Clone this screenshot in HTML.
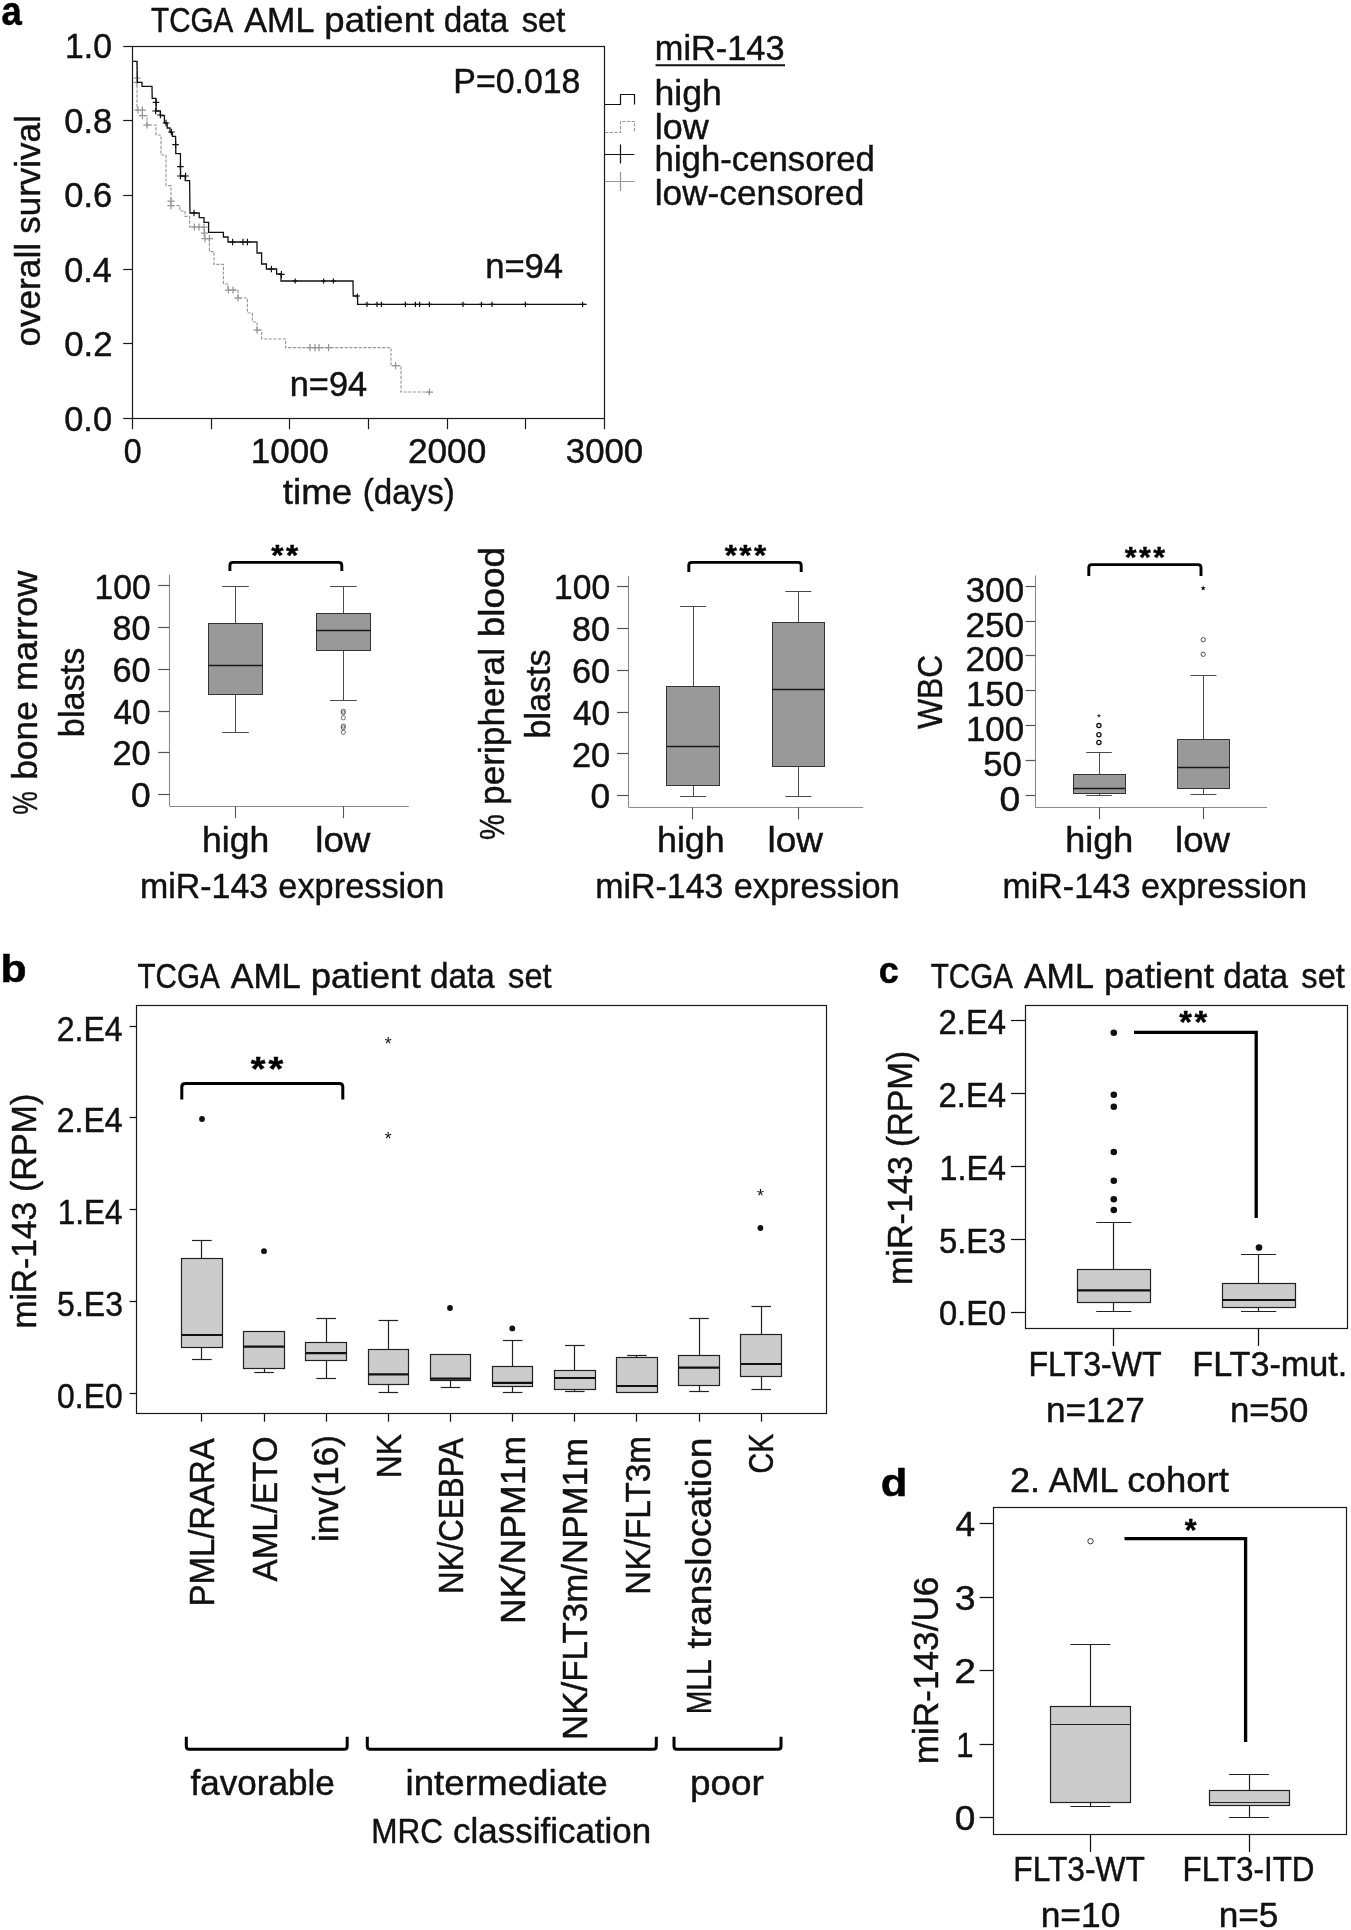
<!DOCTYPE html>
<html><head><meta charset="utf-8"><title>Figure</title>
<style>
html,body{margin:0;padding:0;background:#fff;}
svg{display:block;filter:grayscale(1);}
text{font-family:"Liberation Sans",sans-serif;font-size:100px;}
</style></head>
<body>
<svg width="1351" height="1930" viewBox="0 0 1351 1930">
<rect x="0" y="0" width="1351" height="1930" fill="#ffffff"/>
<text transform="matrix(0.3645 0 0 0.4040 1.61 25.40)" font-weight="bold" fill="#000" stroke="#000" stroke-width="1.3">a</text>
<text transform="matrix(0.2962 0 0 0.3420 151.11 31.75)" fill="#111" stroke="#111" stroke-width="1.3">TCGA</text>
<text transform="matrix(0.3407 0 0 0.3420 244.30 31.75)" fill="#111" stroke="#111" stroke-width="1.3">AML</text>
<text transform="matrix(0.3662 0 0 0.3420 324.32 31.75)" fill="#111" stroke="#111" stroke-width="1.3">patient</text>
<text transform="matrix(0.3323 0 0 0.3420 443.67 31.75)" fill="#111" stroke="#111" stroke-width="1.3">data</text>
<text transform="matrix(0.3266 0 0 0.3420 521.72 31.75)" fill="#111" stroke="#111" stroke-width="1.3">set</text>
<rect x="132.50" y="46.50" width="472.00" height="372.00" fill="none" stroke="#1a1a1a" stroke-width="1.2"/>
<line x1="123.20" y1="46.50" x2="132.60" y2="46.50" stroke="#1a1a1a" stroke-width="1.2" />
<text transform="matrix(0.3375 0 0 0.3420 65.07 58.30)" fill="#111" stroke="#111" stroke-width="1.3">1.0</text>
<line x1="123.20" y1="120.50" x2="132.60" y2="120.50" stroke="#1a1a1a" stroke-width="1.2" />
<text transform="matrix(0.3450 0 0 0.3420 64.22 132.74)" fill="#111" stroke="#111" stroke-width="1.3">0.8</text>
<line x1="123.20" y1="195.50" x2="132.60" y2="195.50" stroke="#1a1a1a" stroke-width="1.2" />
<text transform="matrix(0.3450 0 0 0.3420 64.22 207.18)" fill="#111" stroke="#111" stroke-width="1.3">0.6</text>
<line x1="123.20" y1="269.50" x2="132.60" y2="269.50" stroke="#1a1a1a" stroke-width="1.2" />
<text transform="matrix(0.3424 0 0 0.3420 64.23 281.62)" fill="#111" stroke="#111" stroke-width="1.3">0.4</text>
<line x1="123.20" y1="343.50" x2="132.60" y2="343.50" stroke="#1a1a1a" stroke-width="1.2" />
<text transform="matrix(0.3477 0 0 0.3420 64.21 356.06)" fill="#111" stroke="#111" stroke-width="1.3">0.2</text>
<line x1="123.20" y1="418.50" x2="132.60" y2="418.50" stroke="#1a1a1a" stroke-width="1.2" />
<text transform="matrix(0.3437 0 0 0.3420 64.23 430.50)" fill="#111" stroke="#111" stroke-width="1.3">0.0</text>
<line x1="132.50" y1="418.40" x2="132.50" y2="429.20" stroke="#1a1a1a" stroke-width="1.2" />
<line x1="211.50" y1="418.40" x2="211.50" y2="429.20" stroke="#1a1a1a" stroke-width="1.2" />
<line x1="289.50" y1="418.40" x2="289.50" y2="429.20" stroke="#1a1a1a" stroke-width="1.2" />
<line x1="368.50" y1="418.40" x2="368.50" y2="429.20" stroke="#1a1a1a" stroke-width="1.2" />
<line x1="447.50" y1="418.40" x2="447.50" y2="429.20" stroke="#1a1a1a" stroke-width="1.2" />
<line x1="525.50" y1="418.40" x2="525.50" y2="429.20" stroke="#1a1a1a" stroke-width="1.2" />
<line x1="604.50" y1="418.40" x2="604.50" y2="429.20" stroke="#1a1a1a" stroke-width="1.2" />
<text transform="matrix(0.3208 0 0 0.3420 123.82 462.80)" fill="#111" stroke="#111" stroke-width="1.3">0</text>
<text transform="matrix(0.3504 0 0 0.3420 250.87 462.80)" fill="#111" stroke="#111" stroke-width="1.3">1000</text>
<text transform="matrix(0.3519 0 0 0.3420 407.94 462.80)" fill="#111" stroke="#111" stroke-width="1.3">2000</text>
<text transform="matrix(0.3479 0 0 0.3420 565.81 462.80)" fill="#111" stroke="#111" stroke-width="1.3">3000</text>
<text transform="matrix(0.3683 0 0 0.3420 282.75 504.30)" fill="#111" stroke="#111" stroke-width="1.3">time</text>
<text transform="matrix(0.3315 0 0 0.3420 362.71 504.30)" fill="#111" stroke="#111" stroke-width="1.3">(days)</text>
<text transform="matrix(0 -0.3521 0.3420 0 40.00 346.61)" fill="#111" stroke="#111" stroke-width="1.3">overall</text>
<text transform="matrix(0 -0.3496 0.3420 0 40.00 233.75)" fill="#111" stroke="#111" stroke-width="1.3">survival</text>
<text transform="matrix(0.3388 0 0 0.3420 453.29 93.00)" fill="#111" stroke="#111" stroke-width="1.3">P=0.018</text>
<text transform="matrix(0.3462 0 0 0.3420 485.15 278.00)" fill="#111" stroke="#111" stroke-width="1.3">n=94</text>
<text transform="matrix(0.3434 0 0 0.3420 289.77 396.00)" fill="#111" stroke="#111" stroke-width="1.3">n=94</text>
<path d="M132.6 61.4L137.0 61.4L137.0 110.0L142.4 110.0L142.4 115.6L147.0 115.6L147.0 125.0L156.0 125.0L156.0 135.0L161.0 135.0L161.0 155.0L166.0 155.0L166.0 185.6L171.0 185.6L171.0 205.6L180.0 205.6L180.0 211.0L185.0 211.0L185.0 216.4L189.6 216.4L189.6 227.0L204.4 227.0L204.4 238.6L209.4 238.6L209.4 251.6L214.0 251.6L214.0 264.4L223.4 264.4L223.4 284.0L228.0 284.0L228.0 290.0L238.0 290.0L238.0 298.0L247.4 298.0L247.4 313.0L252.4 313.0L252.4 322.0L257.0 322.0L257.0 330.0L261.6 330.0L261.6 339.0L285.6 339.0L285.6 347.6L391.0 347.6L391.0 365.6L401.0 365.6L401.0 392.0L432.0 392.0" stroke="#989898" stroke-width="1.15" fill="none" stroke-dasharray="3.2 1.5"/>
<path d="M133.4 78.0h7.2M137.0 74.4v7.2M133.4 82.4h7.2M137.0 78.8v7.2M134.4 110.0h7.2M138.0 106.4v7.2M138.8 110.0h7.2M142.4 106.4v7.2M138.8 115.6h7.2M142.4 112.0v7.2M143.4 125.0h7.2M147.0 121.4v7.2M167.4 201.0h7.2M171.0 197.4v7.2M167.4 205.6h7.2M171.0 202.0v7.2M190.8 227.0h7.2M194.4 223.4v7.2M195.4 227.0h7.2M199.0 223.4v7.2M200.4 227.0h7.2M204.0 223.4v7.2M200.8 233.0h7.2M204.4 229.4v7.2M201.4 238.6h7.2M205.0 235.0v7.2M205.8 238.6h7.2M209.4 235.0v7.2M224.8 290.0h7.2M228.4 286.4v7.2M229.4 290.0h7.2M233.0 286.4v7.2M234.4 298.0h7.2M238.0 294.4v7.2M253.4 330.0h7.2M257.0 326.4v7.2M306.4 347.6h7.2M310.0 344.0v7.2M311.4 347.6h7.2M315.0 344.0v7.2M315.4 347.6h7.2M319.0 344.0v7.2M325.0 347.6h7.2M328.6 344.0v7.2M392.0 365.6h7.2M395.6 362.0v7.2M425.8 392.0h7.2M429.4 388.4v7.2" stroke="#959595" stroke-width="1.25" fill="none" />
<path d="M132.6 61.4L137.0 61.4L137.4 82.4L142.0 82.4L142.0 86.4L152.0 86.4L152.2 98.4L156.0 98.4L156.2 111.0L160.4 111.0L160.4 115.6L164.4 115.6L164.4 123.0L167.2 123.0L167.2 128.0L170.0 128.0L170.0 132.4L172.4 132.4L172.4 136.4L175.6 136.4L175.8 153.6L180.4 153.6L180.6 176.0L185.2 176.0L185.2 180.6L189.6 180.6L190.0 213.0L199.2 213.0L199.2 217.6L204.0 217.6L204.0 222.4L208.6 222.4L208.6 232.4L223.4 232.4L223.4 237.0L228.0 237.0L228.0 242.0L257.0 242.0L257.0 253.0L261.6 253.0L261.6 264.0L266.4 264.0L266.4 269.0L276.6 269.0L276.6 274.0L281.0 274.0L281.0 281.0L353.0 281.0L353.2 296.0L357.6 296.0L357.6 304.4L586.6 304.4" stroke="#111" stroke-width="1.3" fill="none" />
<path d="M152.7 102.4h6.6M156.0 99.1v6.6M152.3 111.0h6.6M155.6 107.7v6.6M157.1 115.0h6.6M160.4 111.7v6.6M162.7 123.0h6.6M166.0 119.7v6.6M168.1 132.0h6.6M171.4 128.7v6.6M172.3 144.6h6.6M175.6 141.3v6.6M177.1 166.6h6.6M180.4 163.3v6.6M177.1 176.0h6.6M180.4 172.7v6.6M182.3 176.0h6.6M185.6 172.7v6.6M190.7 213.0h6.6M194.0 209.7v6.6M229.3 242.0h6.6M232.6 238.7v6.6M239.7 242.0h6.6M243.0 238.7v6.6M244.1 242.0h6.6M247.4 238.7v6.6M268.1 269.0h6.6M271.4 265.7v6.6M278.1 274.4h6.6M281.4 271.1v6.6M292.6 281.0h5.2M295.2 278.4v5.2M321.0 281.0h5.2M323.6 278.4v5.2M330.8 281.0h5.2M333.4 278.4v5.2M354.8 296.0h5.2M357.4 293.4v5.2M364.4 304.4h5.2M367.0 301.8v5.2M374.4 304.4h5.2M377.0 301.8v5.2M378.8 304.4h5.2M381.4 301.8v5.2M402.8 304.4h5.2M405.4 301.8v5.2M412.8 304.4h5.2M415.4 301.8v5.2M417.0 304.4h5.2M419.6 301.8v5.2M426.8 304.4h5.2M429.4 301.8v5.2M460.4 304.4h5.2M463.0 301.8v5.2M478.8 304.4h5.2M481.4 301.8v5.2M489.4 304.4h5.2M492.0 301.8v5.2M522.8 304.4h5.2M525.4 301.8v5.2M580.0 304.4h5.2M582.6 301.8v5.2" stroke="#111" stroke-width="1.2" fill="none" />
<text transform="matrix(0.3435 0 0 0.3420 654.77 59.50)" fill="#111" stroke="#111" stroke-width="1.3">miR-143</text>
<line x1="655.50" y1="65.20" x2="785.00" y2="65.20" stroke="#111" stroke-width="2" />
<text transform="matrix(0.3561 0 0 0.3420 654.51 105.00)" fill="#111" stroke="#111" stroke-width="1.3">high</text>
<text transform="matrix(0.3594 0 0 0.3420 654.66 138.75)" fill="#111" stroke="#111" stroke-width="1.3">low</text>
<text transform="matrix(0.3476 0 0 0.3420 654.57 171.25)" fill="#111" stroke="#111" stroke-width="1.3">high-censored</text>
<text transform="matrix(0.3525 0 0 0.3420 654.71 204.50)" fill="#111" stroke="#111" stroke-width="1.3">low-censored</text>
<path d="M605 104.5H620.5V94.5H634.5V104.5" stroke="#111" stroke-width="1.2" fill="none" />
<path d="M605 132.5H620.5V121.5H634.5V132.5" stroke="#989898" stroke-width="1.15" fill="none" stroke-dasharray="3.2 1.5"/>
<path d="M605 154.5H634.4M620.5 144.4V163.6" stroke="#111" stroke-width="1.2" fill="none" />
<path d="M605 181.5H634.4M620.5 172V191" stroke="#959595" stroke-width="1.2" fill="none" />
<line x1="169.50" y1="574.70" x2="169.50" y2="806.20" stroke="#8a8a8a" stroke-width="1.1" />
<line x1="169.80" y1="806.50" x2="408.80" y2="806.50" stroke="#8a8a8a" stroke-width="1.1" />
<line x1="158.20" y1="585.50" x2="169.80" y2="585.50" stroke="#555" stroke-width="1.2" />
<text transform="matrix(0.3360 0 0 0.3420 94.53 598.50)" fill="#111" stroke="#111" stroke-width="1.3">100</text>
<line x1="158.20" y1="627.50" x2="169.80" y2="627.50" stroke="#555" stroke-width="1.2" />
<text transform="matrix(0.3417 0 0 0.3420 112.56 640.24)" fill="#111" stroke="#111" stroke-width="1.3">80</text>
<line x1="158.20" y1="669.50" x2="169.80" y2="669.50" stroke="#555" stroke-width="1.2" />
<text transform="matrix(0.3434 0 0 0.3420 112.38 681.98)" fill="#111" stroke="#111" stroke-width="1.3">60</text>
<line x1="158.20" y1="711.50" x2="169.80" y2="711.50" stroke="#555" stroke-width="1.2" />
<text transform="matrix(0.3336 0 0 0.3420 113.43 723.72)" fill="#111" stroke="#111" stroke-width="1.3">40</text>
<line x1="158.20" y1="752.50" x2="169.80" y2="752.50" stroke="#555" stroke-width="1.2" />
<text transform="matrix(0.3434 0 0 0.3420 112.38 765.46)" fill="#111" stroke="#111" stroke-width="1.3">20</text>
<line x1="158.20" y1="794.50" x2="169.80" y2="794.50" stroke="#555" stroke-width="1.2" />
<text transform="matrix(0.3531 0 0 0.3420 130.94 807.20)" fill="#111" stroke="#111" stroke-width="1.3">0</text>
<line x1="235.50" y1="806.20" x2="235.50" y2="818.20" stroke="#555" stroke-width="1.1" />
<line x1="343.50" y1="806.20" x2="343.50" y2="818.20" stroke="#555" stroke-width="1.1" />
<line x1="235.50" y1="586.20" x2="235.50" y2="623.50" stroke="#4a4a4a" stroke-width="1" />
<line x1="222.20" y1="586.50" x2="248.80" y2="586.50" stroke="#4a4a4a" stroke-width="1" />
<line x1="235.50" y1="694.60" x2="235.50" y2="732.20" stroke="#4a4a4a" stroke-width="1" />
<line x1="222.20" y1="732.50" x2="248.80" y2="732.50" stroke="#4a4a4a" stroke-width="1" />
<rect x="208.50" y="623.50" width="54.00" height="71.00" fill="#999999" stroke="#333" stroke-width="1"/>
<line x1="208.40" y1="665.50" x2="262.60" y2="665.50" stroke="#1a1a1a" stroke-width="1.5" />
<line x1="343.50" y1="586.20" x2="343.50" y2="613.20" stroke="#4a4a4a" stroke-width="1" />
<line x1="330.10" y1="586.50" x2="356.70" y2="586.50" stroke="#4a4a4a" stroke-width="1" />
<line x1="343.50" y1="650.50" x2="343.50" y2="700.80" stroke="#4a4a4a" stroke-width="1" />
<line x1="330.10" y1="700.50" x2="356.70" y2="700.50" stroke="#4a4a4a" stroke-width="1" />
<rect x="316.50" y="613.50" width="54.00" height="37.00" fill="#999999" stroke="#333" stroke-width="1"/>
<line x1="316.30" y1="630.50" x2="370.50" y2="630.50" stroke="#1a1a1a" stroke-width="1.5" />
<circle cx="343.30" cy="711.20" r="2.1" fill="none" stroke="#333" stroke-width="0.7"/>
<circle cx="343.30" cy="712.80" r="2.1" fill="none" stroke="#333" stroke-width="0.7"/>
<circle cx="343.30" cy="717.80" r="2.1" fill="none" stroke="#333" stroke-width="0.7"/>
<circle cx="343.30" cy="726.00" r="2.1" fill="none" stroke="#333" stroke-width="0.7"/>
<circle cx="343.30" cy="727.60" r="2.1" fill="none" stroke="#333" stroke-width="0.7"/>
<circle cx="343.30" cy="732.30" r="2.1" fill="none" stroke="#333" stroke-width="0.7"/>
<path d="M229.90 571.00V565.40Q229.90 562.40 232.90 562.40H338.80Q341.80 562.40 341.80 565.40V571.00" stroke="#000" stroke-width="2.9" fill="none" />
<text transform="matrix(0.3145 0 0 0.3000 271.24 564.60)" font-weight="bold" fill="#000" stroke="#000" stroke-width="1.3">*</text>
<text transform="matrix(0.3145 0 0 0.3000 285.89 564.60)" font-weight="bold" fill="#000" stroke="#000" stroke-width="1.3">*</text>
<text transform="matrix(0.3550 0 0 0.3420 202.02 851.50)" fill="#111" stroke="#111" stroke-width="1.3">high</text>
<text transform="matrix(0.3681 0 0 0.3420 315.21 851.50)" fill="#111" stroke="#111" stroke-width="1.3">low</text>
<text transform="matrix(0.3390 0 0 0.3420 140.00 897.80)" fill="#111" stroke="#111" stroke-width="1.3">miR-143</text>
<text transform="matrix(0.3436 0 0 0.3420 278.33 897.80)" fill="#111" stroke="#111" stroke-width="1.3">expression</text>
<text transform="matrix(0 -0.2646 0.3420 0 37.10 814.83)" fill="#111" stroke="#111" stroke-width="1.3">%</text>
<text transform="matrix(0 -0.3537 0.3420 0 37.10 779.80)" fill="#111" stroke="#111" stroke-width="1.3">bone</text>
<text transform="matrix(0 -0.3615 0.3420 0 37.10 691.05)" fill="#111" stroke="#111" stroke-width="1.3">marrow</text>
<text transform="matrix(0 -0.3430 0.3420 0 83.50 737.13)" fill="#111" stroke="#111" stroke-width="1.3">blasts</text>
<line x1="628.50" y1="576.10" x2="628.50" y2="807.40" stroke="#8a8a8a" stroke-width="1.1" />
<line x1="628.60" y1="807.50" x2="863.20" y2="807.50" stroke="#8a8a8a" stroke-width="1.1" />
<line x1="617.00" y1="586.50" x2="628.60" y2="586.50" stroke="#555" stroke-width="1.2" />
<text transform="matrix(0.3360 0 0 0.3420 554.03 599.30)" fill="#111" stroke="#111" stroke-width="1.3">100</text>
<line x1="617.00" y1="628.50" x2="628.60" y2="628.50" stroke="#555" stroke-width="1.2" />
<text transform="matrix(0.3417 0 0 0.3420 572.06 641.12)" fill="#111" stroke="#111" stroke-width="1.3">80</text>
<line x1="617.00" y1="670.50" x2="628.60" y2="670.50" stroke="#555" stroke-width="1.2" />
<text transform="matrix(0.3434 0 0 0.3420 571.88 682.94)" fill="#111" stroke="#111" stroke-width="1.3">60</text>
<line x1="617.00" y1="712.50" x2="628.60" y2="712.50" stroke="#555" stroke-width="1.2" />
<text transform="matrix(0.3336 0 0 0.3420 572.93 724.76)" fill="#111" stroke="#111" stroke-width="1.3">40</text>
<line x1="617.00" y1="753.50" x2="628.60" y2="753.50" stroke="#555" stroke-width="1.2" />
<text transform="matrix(0.3434 0 0 0.3420 571.88 766.58)" fill="#111" stroke="#111" stroke-width="1.3">20</text>
<line x1="617.00" y1="795.50" x2="628.60" y2="795.50" stroke="#555" stroke-width="1.2" />
<text transform="matrix(0.3531 0 0 0.3420 590.44 808.40)" fill="#111" stroke="#111" stroke-width="1.3">0</text>
<line x1="692.50" y1="807.40" x2="692.50" y2="819.40" stroke="#555" stroke-width="1.1" />
<line x1="798.50" y1="807.40" x2="798.50" y2="819.40" stroke="#555" stroke-width="1.1" />
<line x1="693.50" y1="606.00" x2="693.50" y2="686.40" stroke="#4a4a4a" stroke-width="1" />
<line x1="680.00" y1="606.50" x2="706.00" y2="606.50" stroke="#4a4a4a" stroke-width="1" />
<line x1="693.50" y1="785.30" x2="693.50" y2="796.00" stroke="#4a4a4a" stroke-width="1" />
<line x1="680.00" y1="796.50" x2="706.00" y2="796.50" stroke="#4a4a4a" stroke-width="1" />
<rect x="666.50" y="686.50" width="53.00" height="99.00" fill="#999999" stroke="#333" stroke-width="1"/>
<line x1="666.80" y1="746.50" x2="719.20" y2="746.50" stroke="#1a1a1a" stroke-width="1.5" />
<line x1="798.50" y1="591.20" x2="798.50" y2="622.80" stroke="#4a4a4a" stroke-width="1" />
<line x1="785.40" y1="591.50" x2="811.40" y2="591.50" stroke="#4a4a4a" stroke-width="1" />
<line x1="798.50" y1="766.80" x2="798.50" y2="796.00" stroke="#4a4a4a" stroke-width="1" />
<line x1="785.40" y1="796.50" x2="811.40" y2="796.50" stroke="#4a4a4a" stroke-width="1" />
<rect x="772.50" y="622.50" width="52.00" height="144.00" fill="#999999" stroke="#333" stroke-width="1"/>
<line x1="772.00" y1="689.50" x2="824.80" y2="689.50" stroke="#1a1a1a" stroke-width="1.5" />
<path d="M688.80 572.00V565.40Q688.80 562.40 691.80 562.40H798.20Q801.20 562.40 801.20 565.40V572.00" stroke="#000" stroke-width="2.9" fill="none" />
<text transform="matrix(0.3140 0 0 0.3000 724.64 564.60)" font-weight="bold" fill="#000" stroke="#000" stroke-width="1.3">*</text>
<text transform="matrix(0.3140 0 0 0.3000 739.28 564.60)" font-weight="bold" fill="#000" stroke="#000" stroke-width="1.3">*</text>
<text transform="matrix(0.3140 0 0 0.3000 753.91 564.60)" font-weight="bold" fill="#000" stroke="#000" stroke-width="1.3">*</text>
<text transform="matrix(0.3584 0 0 0.3420 656.99 851.60)" fill="#111" stroke="#111" stroke-width="1.3">high</text>
<text transform="matrix(0.3694 0 0 0.3420 767.60 851.60)" fill="#111" stroke="#111" stroke-width="1.3">low</text>
<text transform="matrix(0.3390 0 0 0.3420 595.30 897.80)" fill="#111" stroke="#111" stroke-width="1.3">miR-143</text>
<text transform="matrix(0.3436 0 0 0.3420 733.63 897.80)" fill="#111" stroke="#111" stroke-width="1.3">expression</text>
<text transform="matrix(0 -0.2915 0.3420 0 503.90 840.02)" fill="#111" stroke="#111" stroke-width="1.3">%</text>
<text transform="matrix(0 -0.3530 0.3420 0 503.90 804.99)" fill="#111" stroke="#111" stroke-width="1.3">peripheral</text>
<text transform="matrix(0 -0.3693 0.3420 0 503.90 637.20)" fill="#111" stroke="#111" stroke-width="1.3">blood</text>
<text transform="matrix(0 -0.3406 0.3420 0 550.00 738.41)" fill="#111" stroke="#111" stroke-width="1.3">blasts</text>
<line x1="1035.50" y1="575.40" x2="1035.50" y2="807.10" stroke="#8a8a8a" stroke-width="1.1" />
<line x1="1035.20" y1="807.50" x2="1267.00" y2="807.50" stroke="#8a8a8a" stroke-width="1.1" />
<line x1="1025.60" y1="586.50" x2="1035.20" y2="586.50" stroke="#555" stroke-width="1.2" />
<text transform="matrix(0.3497 0 0 0.3420 965.80 601.80)" fill="#111" stroke="#111" stroke-width="1.3">300</text>
<line x1="1025.60" y1="621.50" x2="1035.20" y2="621.50" stroke="#555" stroke-width="1.2" />
<text transform="matrix(0.3519 0 0 0.3420 965.44 636.60)" fill="#111" stroke="#111" stroke-width="1.3">250</text>
<line x1="1025.60" y1="655.50" x2="1035.20" y2="655.50" stroke="#555" stroke-width="1.2" />
<text transform="matrix(0.3519 0 0 0.3420 965.44 671.40)" fill="#111" stroke="#111" stroke-width="1.3">200</text>
<line x1="1025.60" y1="690.50" x2="1035.20" y2="690.50" stroke="#555" stroke-width="1.2" />
<text transform="matrix(0.3486 0 0 0.3420 965.99 706.20)" fill="#111" stroke="#111" stroke-width="1.3">150</text>
<line x1="1025.60" y1="725.50" x2="1035.20" y2="725.50" stroke="#555" stroke-width="1.2" />
<text transform="matrix(0.3486 0 0 0.3420 965.99 741.00)" fill="#111" stroke="#111" stroke-width="1.3">100</text>
<line x1="1025.60" y1="760.50" x2="1035.20" y2="760.50" stroke="#555" stroke-width="1.2" />
<text transform="matrix(0.3459 0 0 0.3420 983.32 775.80)" fill="#111" stroke="#111" stroke-width="1.3">50</text>
<line x1="1025.60" y1="795.50" x2="1035.20" y2="795.50" stroke="#555" stroke-width="1.2" />
<text transform="matrix(0.3729 0 0 0.3420 999.51 810.60)" fill="#111" stroke="#111" stroke-width="1.3">0</text>
<line x1="1099.50" y1="807.10" x2="1099.50" y2="819.10" stroke="#555" stroke-width="1.1" />
<line x1="1203.50" y1="807.10" x2="1203.50" y2="819.10" stroke="#555" stroke-width="1.1" />
<line x1="1099.50" y1="752.40" x2="1099.50" y2="774.70" stroke="#4a4a4a" stroke-width="1" />
<line x1="1086.20" y1="752.50" x2="1111.80" y2="752.50" stroke="#4a4a4a" stroke-width="1" />
<line x1="1099.50" y1="793.70" x2="1099.50" y2="795.00" stroke="#4a4a4a" stroke-width="1" />
<line x1="1086.20" y1="795.50" x2="1111.80" y2="795.50" stroke="#4a4a4a" stroke-width="1" />
<rect x="1073.50" y="774.50" width="52.00" height="19.00" fill="#999999" stroke="#333" stroke-width="1"/>
<line x1="1073.00" y1="788.50" x2="1125.00" y2="788.50" stroke="#1a1a1a" stroke-width="1.5" />
<line x1="1203.50" y1="675.60" x2="1203.50" y2="739.20" stroke="#4a4a4a" stroke-width="1" />
<line x1="1190.40" y1="675.50" x2="1216.40" y2="675.50" stroke="#4a4a4a" stroke-width="1" />
<line x1="1203.50" y1="788.40" x2="1203.50" y2="794.80" stroke="#4a4a4a" stroke-width="1" />
<line x1="1190.40" y1="794.50" x2="1216.40" y2="794.50" stroke="#4a4a4a" stroke-width="1" />
<rect x="1177.50" y="739.50" width="52.00" height="49.00" fill="#999999" stroke="#333" stroke-width="1"/>
<line x1="1177.40" y1="767.50" x2="1229.40" y2="767.50" stroke="#1a1a1a" stroke-width="1.5" />
<polygon points="1098.90,713.30 1099.37,715.15 1101.28,715.03 1099.66,716.05 1100.37,717.82 1098.90,716.60 1097.43,717.82 1098.14,716.05 1096.52,715.03 1098.43,715.15" fill="#111"/>
<circle cx="1098.90" cy="725.60" r="2.1" fill="none" stroke="#111" stroke-width="1.3"/>
<circle cx="1098.90" cy="734.80" r="2.1" fill="none" stroke="#111" stroke-width="1.3"/>
<circle cx="1098.90" cy="742.50" r="2.1" fill="none" stroke="#111" stroke-width="1.3"/>
<polygon points="1203.20,585.50 1203.91,587.22 1205.77,587.37 1204.36,588.58 1204.79,590.38 1203.20,589.42 1201.61,590.38 1202.04,588.58 1200.63,587.37 1202.49,587.22" fill="#111"/>
<circle cx="1203.20" cy="639.70" r="2.15" fill="none" stroke="#222" stroke-width="0.8"/>
<circle cx="1203.20" cy="654.30" r="2.15" fill="none" stroke="#222" stroke-width="0.8"/>
<path d="M1088.80 576.00V567.60Q1088.80 564.60 1091.80 564.60H1198.00Q1201.00 564.60 1201.00 567.60V576.00" stroke="#000" stroke-width="2.9" fill="none" />
<text transform="matrix(0.3035 0 0 0.2973 1124.85 566.51)" font-weight="bold" fill="#000" stroke="#000" stroke-width="1.3">*</text>
<text transform="matrix(0.3035 0 0 0.2973 1139.08 566.51)" font-weight="bold" fill="#000" stroke="#000" stroke-width="1.3">*</text>
<text transform="matrix(0.3035 0 0 0.2973 1153.31 566.51)" font-weight="bold" fill="#000" stroke="#000" stroke-width="1.3">*</text>
<text transform="matrix(0.3601 0 0 0.3420 1065.28 851.60)" fill="#111" stroke="#111" stroke-width="1.3">high</text>
<text transform="matrix(0.3667 0 0 0.3420 1175.02 851.60)" fill="#111" stroke="#111" stroke-width="1.3">low</text>
<text transform="matrix(0.3390 0 0 0.3420 1002.60 897.80)" fill="#111" stroke="#111" stroke-width="1.3">miR-143</text>
<text transform="matrix(0.3436 0 0 0.3420 1140.93 897.80)" fill="#111" stroke="#111" stroke-width="1.3">expression</text>
<text transform="matrix(0 -0.3192 0.3420 0 942.30 729.06)" fill="#111" stroke="#111" stroke-width="1.3">WBC</text>
<text transform="matrix(0.4277 0 0 0.3850 0.42 982.00)" font-weight="bold" fill="#000" stroke="#000" stroke-width="1.3">b</text>
<text transform="matrix(0.2962 0 0 0.3420 137.51 988.00)" fill="#111" stroke="#111" stroke-width="1.3">TCGA</text>
<text transform="matrix(0.3407 0 0 0.3420 230.70 988.00)" fill="#111" stroke="#111" stroke-width="1.3">AML</text>
<text transform="matrix(0.3662 0 0 0.3420 310.72 988.00)" fill="#111" stroke="#111" stroke-width="1.3">patient</text>
<text transform="matrix(0.3323 0 0 0.3420 430.07 988.00)" fill="#111" stroke="#111" stroke-width="1.3">data</text>
<text transform="matrix(0.3266 0 0 0.3420 508.12 988.00)" fill="#111" stroke="#111" stroke-width="1.3">set</text>
<rect x="136.50" y="1005.50" width="690.00" height="408.00" fill="none" stroke="#1a1a1a" stroke-width="1.2"/>
<line x1="129.60" y1="1026.50" x2="136.60" y2="1026.50" stroke="#111" stroke-width="1.25" />
<text transform="matrix(0.3200 0 0 0.3420 56.80 1040.60)" fill="#111" stroke="#111" stroke-width="1.3">2.E4</text>
<line x1="129.60" y1="1117.50" x2="136.60" y2="1117.50" stroke="#111" stroke-width="1.25" />
<text transform="matrix(0.3200 0 0 0.3420 56.80 1132.20)" fill="#111" stroke="#111" stroke-width="1.3">2.E4</text>
<line x1="129.60" y1="1209.50" x2="136.60" y2="1209.50" stroke="#111" stroke-width="1.25" />
<text transform="matrix(0.3149 0 0 0.3420 57.84 1224.20)" fill="#111" stroke="#111" stroke-width="1.3">1.E4</text>
<line x1="129.60" y1="1301.50" x2="136.60" y2="1301.50" stroke="#111" stroke-width="1.25" />
<text transform="matrix(0.3200 0 0 0.3420 57.12 1315.90)" fill="#111" stroke="#111" stroke-width="1.3">5.E3</text>
<line x1="129.60" y1="1393.50" x2="136.60" y2="1393.50" stroke="#111" stroke-width="1.25" />
<text transform="matrix(0.3192 0 0 0.3420 57.12 1407.80)" fill="#111" stroke="#111" stroke-width="1.3">0.E0</text>
<text transform="matrix(0 -0.3358 0.3420 0 36.40 1328.58)" fill="#111" stroke="#111" stroke-width="1.3">miR-143</text>
<text transform="matrix(0 -0.3407 0.3420 0 36.40 1192.04)" fill="#111" stroke="#111" stroke-width="1.3">(RPM)</text>
<line x1="201.50" y1="1413.80" x2="201.50" y2="1421.70" stroke="#111" stroke-width="1.25" />
<line x1="264.50" y1="1413.80" x2="264.50" y2="1421.70" stroke="#111" stroke-width="1.25" />
<line x1="326.50" y1="1413.80" x2="326.50" y2="1421.70" stroke="#111" stroke-width="1.25" />
<line x1="388.50" y1="1413.80" x2="388.50" y2="1421.70" stroke="#111" stroke-width="1.25" />
<line x1="450.50" y1="1413.80" x2="450.50" y2="1421.70" stroke="#111" stroke-width="1.25" />
<line x1="512.50" y1="1413.80" x2="512.50" y2="1421.70" stroke="#111" stroke-width="1.25" />
<line x1="574.50" y1="1413.80" x2="574.50" y2="1421.70" stroke="#111" stroke-width="1.25" />
<line x1="636.50" y1="1413.80" x2="636.50" y2="1421.70" stroke="#111" stroke-width="1.25" />
<line x1="699.50" y1="1413.80" x2="699.50" y2="1421.70" stroke="#111" stroke-width="1.25" />
<line x1="761.50" y1="1413.80" x2="761.50" y2="1421.70" stroke="#111" stroke-width="1.25" />
<line x1="201.50" y1="1240.60" x2="201.50" y2="1258.00" stroke="#222" stroke-width="1.2" />
<line x1="192.10" y1="1240.50" x2="211.70" y2="1240.50" stroke="#222" stroke-width="1.2" />
<line x1="201.50" y1="1347.20" x2="201.50" y2="1359.60" stroke="#222" stroke-width="1.2" />
<line x1="192.10" y1="1359.50" x2="211.70" y2="1359.50" stroke="#222" stroke-width="1.2" />
<rect x="181.50" y="1258.50" width="41.00" height="89.00" fill="#cccccc" stroke="#222" stroke-width="1.2"/>
<line x1="181.60" y1="1335.00" x2="222.20" y2="1335.00" stroke="#111" stroke-width="2.2" />
<line x1="264.50" y1="1368.40" x2="264.50" y2="1372.00" stroke="#222" stroke-width="1.2" />
<line x1="254.25" y1="1372.50" x2="273.85" y2="1372.50" stroke="#222" stroke-width="1.2" />
<rect x="243.50" y="1331.50" width="41.00" height="37.00" fill="#cccccc" stroke="#222" stroke-width="1.2"/>
<line x1="243.75" y1="1346.60" x2="284.35" y2="1346.60" stroke="#111" stroke-width="2.2" />
<line x1="326.50" y1="1318.00" x2="326.50" y2="1342.80" stroke="#222" stroke-width="1.2" />
<line x1="316.40" y1="1318.50" x2="336.00" y2="1318.50" stroke="#222" stroke-width="1.2" />
<line x1="326.50" y1="1360.40" x2="326.50" y2="1378.80" stroke="#222" stroke-width="1.2" />
<line x1="316.40" y1="1378.50" x2="336.00" y2="1378.50" stroke="#222" stroke-width="1.2" />
<rect x="305.50" y="1342.50" width="41.00" height="18.00" fill="#cccccc" stroke="#222" stroke-width="1.2"/>
<line x1="305.90" y1="1353.20" x2="346.50" y2="1353.20" stroke="#111" stroke-width="2.2" />
<line x1="388.50" y1="1320.00" x2="388.50" y2="1349.20" stroke="#222" stroke-width="1.2" />
<line x1="378.55" y1="1320.50" x2="398.15" y2="1320.50" stroke="#222" stroke-width="1.2" />
<line x1="388.50" y1="1384.40" x2="388.50" y2="1392.00" stroke="#222" stroke-width="1.2" />
<line x1="378.55" y1="1392.50" x2="398.15" y2="1392.50" stroke="#222" stroke-width="1.2" />
<rect x="368.50" y="1349.50" width="40.00" height="35.00" fill="#cccccc" stroke="#222" stroke-width="1.2"/>
<line x1="368.05" y1="1374.40" x2="408.65" y2="1374.40" stroke="#111" stroke-width="2.2" />
<line x1="450.50" y1="1380.00" x2="450.50" y2="1387.20" stroke="#222" stroke-width="1.2" />
<line x1="440.70" y1="1387.50" x2="460.30" y2="1387.50" stroke="#222" stroke-width="1.2" />
<rect x="430.50" y="1354.50" width="40.00" height="26.00" fill="#cccccc" stroke="#222" stroke-width="1.2"/>
<line x1="430.20" y1="1378.70" x2="470.80" y2="1378.70" stroke="#111" stroke-width="2.2" />
<line x1="512.50" y1="1340.00" x2="512.50" y2="1366.00" stroke="#222" stroke-width="1.2" />
<line x1="502.85" y1="1340.50" x2="522.45" y2="1340.50" stroke="#222" stroke-width="1.2" />
<line x1="512.50" y1="1386.40" x2="512.50" y2="1392.40" stroke="#222" stroke-width="1.2" />
<line x1="502.85" y1="1392.50" x2="522.45" y2="1392.50" stroke="#222" stroke-width="1.2" />
<rect x="492.50" y="1366.50" width="40.00" height="20.00" fill="#cccccc" stroke="#222" stroke-width="1.2"/>
<line x1="492.35" y1="1382.80" x2="532.95" y2="1382.80" stroke="#111" stroke-width="2.2" />
<line x1="574.50" y1="1345.60" x2="574.50" y2="1370.40" stroke="#222" stroke-width="1.2" />
<line x1="565.00" y1="1345.50" x2="584.60" y2="1345.50" stroke="#222" stroke-width="1.2" />
<line x1="574.50" y1="1389.20" x2="574.50" y2="1391.60" stroke="#222" stroke-width="1.2" />
<line x1="565.00" y1="1391.50" x2="584.60" y2="1391.50" stroke="#222" stroke-width="1.2" />
<rect x="554.50" y="1370.50" width="41.00" height="19.00" fill="#cccccc" stroke="#222" stroke-width="1.2"/>
<line x1="554.50" y1="1378.00" x2="595.10" y2="1378.00" stroke="#111" stroke-width="2.2" />
<line x1="636.50" y1="1355.60" x2="636.50" y2="1357.20" stroke="#222" stroke-width="1.2" />
<line x1="627.15" y1="1355.50" x2="646.75" y2="1355.50" stroke="#222" stroke-width="1.2" />
<rect x="616.50" y="1357.50" width="41.00" height="35.00" fill="#cccccc" stroke="#222" stroke-width="1.2"/>
<line x1="616.65" y1="1386.00" x2="657.25" y2="1386.00" stroke="#111" stroke-width="2.2" />
<line x1="699.50" y1="1318.40" x2="699.50" y2="1355.20" stroke="#222" stroke-width="1.2" />
<line x1="689.30" y1="1318.50" x2="708.90" y2="1318.50" stroke="#222" stroke-width="1.2" />
<line x1="699.50" y1="1385.60" x2="699.50" y2="1391.20" stroke="#222" stroke-width="1.2" />
<line x1="689.30" y1="1391.50" x2="708.90" y2="1391.50" stroke="#222" stroke-width="1.2" />
<rect x="678.50" y="1355.50" width="41.00" height="30.00" fill="#cccccc" stroke="#222" stroke-width="1.2"/>
<line x1="678.80" y1="1367.60" x2="719.40" y2="1367.60" stroke="#111" stroke-width="2.2" />
<line x1="761.50" y1="1306.80" x2="761.50" y2="1334.40" stroke="#222" stroke-width="1.2" />
<line x1="751.45" y1="1306.50" x2="771.05" y2="1306.50" stroke="#222" stroke-width="1.2" />
<line x1="761.50" y1="1376.80" x2="761.50" y2="1389.20" stroke="#222" stroke-width="1.2" />
<line x1="751.45" y1="1389.50" x2="771.05" y2="1389.50" stroke="#222" stroke-width="1.2" />
<rect x="740.50" y="1334.50" width="41.00" height="42.00" fill="#cccccc" stroke="#222" stroke-width="1.2"/>
<line x1="740.95" y1="1364.00" x2="781.55" y2="1364.00" stroke="#111" stroke-width="2.2" />
<circle cx="202.00" cy="1119.00" r="2.9" fill="#111" stroke="none" stroke-width="1"/>
<circle cx="264.00" cy="1251.20" r="2.9" fill="#111" stroke="none" stroke-width="1"/>
<circle cx="450.00" cy="1308.00" r="2.9" fill="#111" stroke="none" stroke-width="1"/>
<circle cx="512.30" cy="1328.40" r="2.9" fill="#111" stroke="none" stroke-width="1"/>
<circle cx="760.40" cy="1228.00" r="2.9" fill="#111" stroke="none" stroke-width="1"/>
<text transform="matrix(0.1778 0 0 0.1886 384.63 1050.31)" fill="#111">*</text>
<text transform="matrix(0.1778 0 0 0.1886 384.63 1144.51)" fill="#111">*</text>
<text transform="matrix(0.1778 0 0 0.1886 756.93 1202.11)" fill="#111">*</text>
<path d="M181.80 1099.40V1086.90Q181.80 1083.40 185.30 1083.40H339.30Q342.80 1083.40 342.80 1086.90V1099.40" stroke="#000" stroke-width="3.0" fill="none" />
<text transform="matrix(0.3789 0 0 0.3243 250.81 1079.88)" font-weight="bold" fill="#000" stroke="#000" stroke-width="1.3">*</text>
<text transform="matrix(0.3789 0 0 0.3243 268.41 1079.88)" font-weight="bold" fill="#000" stroke="#000" stroke-width="1.3">*</text>
<text transform="matrix(0 -0.3290 0.3520 0 214.40 1606.43)" fill="#111" stroke="#111" stroke-width="1.3">PML/RARA</text>
<text transform="matrix(0 -0.3320 0.3520 0 277.30 1581.50)" fill="#111" stroke="#111" stroke-width="1.3">AML/ETO</text>
<text transform="matrix(0 -0.3502 0.3520 0 338.30 1542.08)" fill="#111" stroke="#111" stroke-width="1.3">inv(16)</text>
<text transform="matrix(0 -0.3189 0.3520 0 401.00 1478.15)" fill="#111" stroke="#111" stroke-width="1.3">NK</text>
<text transform="matrix(0 -0.3135 0.3520 0 463.10 1594.01)" fill="#111" stroke="#111" stroke-width="1.3">NK/CEBPA</text>
<text transform="matrix(0 -0.3568 0.3520 0 525.40 1624.05)" fill="#111" stroke="#111" stroke-width="1.3">NK/NPM1m</text>
<text transform="matrix(0 -0.3494 0.3520 0 587.20 1740.00)" fill="#111" stroke="#111" stroke-width="1.3">NK/FLT3m/NPM1m</text>
<text transform="matrix(0 -0.3337 0.3520 0 650.00 1594.67)" fill="#111" stroke="#111" stroke-width="1.3">NK/FLT3m</text>
<text transform="matrix(0 -0.2834 0.3520 0 711.20 1714.27)" fill="#111" stroke="#111" stroke-width="1.3">MLL</text>
<text transform="matrix(0 -0.3721 0.3520 0 711.20 1648.56)" fill="#111" stroke="#111" stroke-width="1.3">translocation</text>
<text transform="matrix(0 -0.2868 0.3520 0 773.20 1473.43)" fill="#111" stroke="#111" stroke-width="1.3">CK</text>
<path d="M186.30 1736.80V1746.30Q186.30 1749.30 189.30 1749.30H344.20Q347.20 1749.30 347.20 1746.30V1736.80" stroke="#000" stroke-width="3.0" fill="none" />
<path d="M367.30 1736.80V1746.30Q367.30 1749.30 370.30 1749.30H653.30Q656.30 1749.30 656.30 1746.30V1736.80" stroke="#000" stroke-width="3.0" fill="none" />
<path d="M674.00 1736.80V1746.30Q674.00 1749.30 677.00 1749.30H778.00Q781.00 1749.30 781.00 1746.30V1736.80" stroke="#000" stroke-width="3.0" fill="none" />
<text transform="matrix(0.3507 0 0 0.3420 190.47 1795.00)" fill="#111" stroke="#111" stroke-width="1.3">favorable</text>
<text transform="matrix(0.3677 0 0 0.3420 405.51 1795.00)" fill="#111" stroke="#111" stroke-width="1.3">intermediate</text>
<text transform="matrix(0.3693 0 0 0.3420 690.00 1795.00)" fill="#111" stroke="#111" stroke-width="1.3">poor</text>
<text transform="matrix(0.3153 0 0 0.3420 371.28 1842.50)" fill="#111" stroke="#111" stroke-width="1.3">MRC</text>
<text transform="matrix(0.3495 0 0 0.3420 453.10 1842.50)" fill="#111" stroke="#111" stroke-width="1.3">classification</text>
<text transform="matrix(0.3588 0 0 0.3750 878.76 982.80)" font-weight="bold" fill="#000" stroke="#000" stroke-width="1.3">c</text>
<text transform="matrix(0.2962 0 0 0.3420 930.71 988.00)" fill="#111" stroke="#111" stroke-width="1.3">TCGA</text>
<text transform="matrix(0.3407 0 0 0.3420 1023.90 988.00)" fill="#111" stroke="#111" stroke-width="1.3">AML</text>
<text transform="matrix(0.3662 0 0 0.3420 1103.92 988.00)" fill="#111" stroke="#111" stroke-width="1.3">patient</text>
<text transform="matrix(0.3323 0 0 0.3420 1223.27 988.00)" fill="#111" stroke="#111" stroke-width="1.3">data</text>
<text transform="matrix(0.3266 0 0 0.3420 1301.32 988.00)" fill="#111" stroke="#111" stroke-width="1.3">set</text>
<rect x="1025.50" y="1005.50" width="322.00" height="323.00" fill="none" stroke="#1a1a1a" stroke-width="1.2"/>
<line x1="1011.00" y1="1020.50" x2="1025.00" y2="1020.50" stroke="#111" stroke-width="1.25" />
<text transform="matrix(0.3281 0 0 0.3420 938.56 1034.20)" fill="#111" stroke="#111" stroke-width="1.3">2.E4</text>
<line x1="1011.00" y1="1093.50" x2="1025.00" y2="1093.50" stroke="#111" stroke-width="1.25" />
<text transform="matrix(0.3281 0 0 0.3420 938.56 1107.00)" fill="#111" stroke="#111" stroke-width="1.3">2.E4</text>
<line x1="1011.00" y1="1166.50" x2="1025.00" y2="1166.50" stroke="#111" stroke-width="1.25" />
<text transform="matrix(0.3231 0 0 0.3420 939.58 1179.80)" fill="#111" stroke="#111" stroke-width="1.3">1.E4</text>
<line x1="1011.00" y1="1239.50" x2="1025.00" y2="1239.50" stroke="#111" stroke-width="1.25" />
<text transform="matrix(0.3281 0 0 0.3420 938.89 1252.60)" fill="#111" stroke="#111" stroke-width="1.3">5.E3</text>
<line x1="1011.00" y1="1312.50" x2="1025.00" y2="1312.50" stroke="#111" stroke-width="1.25" />
<text transform="matrix(0.3273 0 0 0.3420 938.89 1325.40)" fill="#111" stroke="#111" stroke-width="1.3">0.E0</text>
<text transform="matrix(0 -0.3418 0.3420 0 912.20 1285.12)" fill="#111" stroke="#111" stroke-width="1.3">miR-143</text>
<text transform="matrix(0 -0.3335 0.3420 0 912.20 1147.10)" fill="#111" stroke="#111" stroke-width="1.3">(RPM)</text>
<line x1="1113.50" y1="1328.40" x2="1113.50" y2="1346.00" stroke="#111" stroke-width="1.25" />
<line x1="1258.50" y1="1328.40" x2="1258.50" y2="1346.00" stroke="#111" stroke-width="1.25" />
<line x1="1113.50" y1="1222.20" x2="1113.50" y2="1269.60" stroke="#222" stroke-width="1.2" />
<line x1="1096.20" y1="1222.50" x2="1131.40" y2="1222.50" stroke="#222" stroke-width="1.2" />
<line x1="1113.50" y1="1302.80" x2="1113.50" y2="1311.60" stroke="#222" stroke-width="1.2" />
<line x1="1096.20" y1="1311.50" x2="1131.40" y2="1311.50" stroke="#222" stroke-width="1.2" />
<rect x="1077.50" y="1269.50" width="73.00" height="33.00" fill="#cccccc" stroke="#222" stroke-width="1.2"/>
<line x1="1077.40" y1="1290.40" x2="1150.20" y2="1290.40" stroke="#111" stroke-width="2.2" />
<line x1="1258.50" y1="1254.80" x2="1258.50" y2="1283.60" stroke="#222" stroke-width="1.2" />
<line x1="1241.00" y1="1254.50" x2="1276.20" y2="1254.50" stroke="#222" stroke-width="1.2" />
<line x1="1258.50" y1="1307.20" x2="1258.50" y2="1311.20" stroke="#222" stroke-width="1.2" />
<line x1="1241.00" y1="1311.50" x2="1276.20" y2="1311.50" stroke="#222" stroke-width="1.2" />
<rect x="1222.50" y="1283.50" width="73.00" height="24.00" fill="#cccccc" stroke="#222" stroke-width="1.2"/>
<line x1="1222.20" y1="1300.00" x2="1295.00" y2="1300.00" stroke="#111" stroke-width="2.2" />
<circle cx="1113.80" cy="1032.80" r="3.3" fill="#111" stroke="none" stroke-width="1"/>
<circle cx="1113.80" cy="1094.80" r="3.3" fill="#111" stroke="none" stroke-width="1"/>
<circle cx="1113.80" cy="1106.80" r="3.3" fill="#111" stroke="none" stroke-width="1"/>
<circle cx="1113.80" cy="1152.00" r="3.3" fill="#111" stroke="none" stroke-width="1"/>
<circle cx="1113.80" cy="1180.80" r="3.3" fill="#111" stroke="none" stroke-width="1"/>
<circle cx="1113.80" cy="1199.20" r="3.3" fill="#111" stroke="none" stroke-width="1"/>
<circle cx="1113.80" cy="1210.00" r="3.3" fill="#111" stroke="none" stroke-width="1"/>
<circle cx="1259.00" cy="1247.60" r="3.3" fill="#111" stroke="none" stroke-width="1"/>
<path d="M1134 1032.3H1256.2V1218" stroke="#000" stroke-width="3.3" fill="none" />
<text transform="matrix(0.3263 0 0 0.3054 1179.34 1033.07)" font-weight="bold" fill="#000" stroke="#000" stroke-width="1.3">*</text>
<text transform="matrix(0.3263 0 0 0.3054 1194.44 1033.07)" font-weight="bold" fill="#000" stroke="#000" stroke-width="1.3">*</text>
<text transform="matrix(0.3214 0 0 0.3420 1028.43 1375.80)" fill="#111" stroke="#111" stroke-width="1.3">FLT3-WT</text>
<text transform="matrix(0.3418 0 0 0.3420 1192.27 1375.80)" fill="#111" stroke="#111" stroke-width="1.3">FLT3-mut.</text>
<text transform="matrix(0.3518 0 0 0.3420 1045.91 1422.00)" fill="#111" stroke="#111" stroke-width="1.3">n=127</text>
<text transform="matrix(0.3479 0 0 0.3420 1229.94 1422.00)" fill="#111" stroke="#111" stroke-width="1.3">n=50</text>
<text transform="matrix(0.4356 0 0 0.3850 880.76 1495.90)" font-weight="bold" fill="#000" stroke="#000" stroke-width="1.3">d</text>
<text transform="matrix(0.3609 0 0 0.3420 1009.90 1491.70)" fill="#111" stroke="#111" stroke-width="1.3">2.</text>
<text transform="matrix(0.3393 0 0 0.3420 1048.70 1491.70)" fill="#111" stroke="#111" stroke-width="1.3">AML</text>
<text transform="matrix(0.3652 0 0 0.3420 1127.34 1491.70)" fill="#111" stroke="#111" stroke-width="1.3">cohort</text>
<rect x="993.50" y="1507.50" width="353.00" height="327.00" fill="none" stroke="#1a1a1a" stroke-width="1.2"/>
<line x1="979.60" y1="1523.50" x2="993.30" y2="1523.50" stroke="#111" stroke-width="1.25" />
<text transform="matrix(0.3525 0 0 0.3420 955.50 1536.20)" fill="#111" stroke="#111" stroke-width="1.3">4</text>
<line x1="979.60" y1="1597.50" x2="993.30" y2="1597.50" stroke="#111" stroke-width="1.25" />
<text transform="matrix(0.3747 0 0 0.3420 954.70 1609.70)" fill="#111" stroke="#111" stroke-width="1.3">3</text>
<line x1="979.60" y1="1670.50" x2="993.30" y2="1670.50" stroke="#111" stroke-width="1.25" />
<text transform="matrix(0.3912 0 0 0.3420 954.24 1683.10)" fill="#111" stroke="#111" stroke-width="1.3">2</text>
<line x1="979.60" y1="1744.50" x2="993.30" y2="1744.50" stroke="#111" stroke-width="1.25" />
<text transform="matrix(0.3103 0 0 0.3420 956.17 1756.50)" fill="#111" stroke="#111" stroke-width="1.3">1</text>
<line x1="979.60" y1="1817.50" x2="993.30" y2="1817.50" stroke="#111" stroke-width="1.25" />
<text transform="matrix(0.3708 0 0 0.3420 954.72 1829.90)" fill="#111" stroke="#111" stroke-width="1.3">0</text>
<text transform="matrix(0 -0.3518 0.3420 0 938.20 1764.29)" fill="#111" stroke="#111" stroke-width="1.3">miR-143/U6</text>
<line x1="1090.50" y1="1834.00" x2="1090.50" y2="1852.00" stroke="#111" stroke-width="1.25" />
<line x1="1249.50" y1="1834.00" x2="1249.50" y2="1852.00" stroke="#111" stroke-width="1.25" />
<line x1="1090.50" y1="1644.00" x2="1090.50" y2="1706.00" stroke="#222" stroke-width="1.2" />
<line x1="1070.40" y1="1644.50" x2="1110.40" y2="1644.50" stroke="#222" stroke-width="1.2" />
<line x1="1090.50" y1="1802.80" x2="1090.50" y2="1806.00" stroke="#222" stroke-width="1.2" />
<line x1="1070.40" y1="1806.50" x2="1110.40" y2="1806.50" stroke="#222" stroke-width="1.2" />
<rect x="1050.50" y="1706.50" width="80.00" height="96.00" fill="#cccccc" stroke="#222" stroke-width="1.2"/>
<line x1="1050.80" y1="1724.50" x2="1130.00" y2="1724.50" stroke="#222" stroke-width="1.1" />
<line x1="1249.50" y1="1774.80" x2="1249.50" y2="1790.40" stroke="#222" stroke-width="1.2" />
<line x1="1229.00" y1="1774.50" x2="1269.00" y2="1774.50" stroke="#222" stroke-width="1.2" />
<line x1="1249.50" y1="1805.20" x2="1249.50" y2="1817.20" stroke="#222" stroke-width="1.2" />
<line x1="1229.00" y1="1817.50" x2="1269.00" y2="1817.50" stroke="#222" stroke-width="1.2" />
<rect x="1209.50" y="1790.50" width="80.00" height="15.00" fill="#cccccc" stroke="#222" stroke-width="1.2"/>
<line x1="1209.00" y1="1802.50" x2="1289.00" y2="1802.50" stroke="#222" stroke-width="1.1" />
<circle cx="1090.50" cy="1541.20" r="2.7" fill="#fff" stroke="#222" stroke-width="0.9"/>
<path d="M1124.5 1538.6H1245.6V1742" stroke="#000" stroke-width="3.3" fill="none" />
<text transform="matrix(0.3026 0 0 0.3081 1184.85 1541.36)" font-weight="bold" fill="#000" stroke="#000" stroke-width="1.3">*</text>
<text transform="matrix(0.3174 0 0 0.3420 1013.26 1881.00)" fill="#111" stroke="#111" stroke-width="1.3">FLT3-WT</text>
<text transform="matrix(0.3141 0 0 0.3420 1182.49 1881.00)" fill="#111" stroke="#111" stroke-width="1.3">FLT3-ITD</text>
<text transform="matrix(0.3535 0 0 0.3420 1040.70 1927.00)" fill="#111" stroke="#111" stroke-width="1.3">n=10</text>
<text transform="matrix(0.3522 0 0 0.3420 1218.71 1927.00)" fill="#111" stroke="#111" stroke-width="1.3">n=5</text>
</svg>
</body></html>
